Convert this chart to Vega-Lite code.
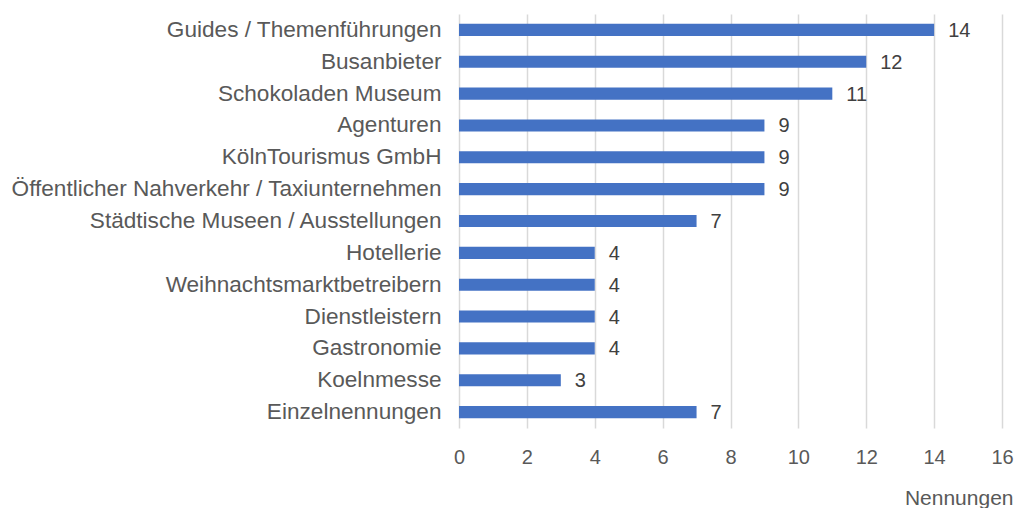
{
  "$schema": "https://vega.github.io/schema/vega-lite/v6.json",
  "autosize": "none",
  "width": 543,
  "height": 414,
  "padding": {"left": 459, "top": 14, "right": 16, "bottom": 80},
  "background": "white",
  "config": {"view": {"stroke": null}, "font": "Liberation Sans"},
  "data": {"values": [
    {"k": "Guides / Themenführungen", "v": 14},
    {"k": "Busanbieter", "v": 12},
    {"k": "Schokoladen Museum", "v": 11},
    {"k": "Agenturen", "v": 9},
    {"k": "KölnTourismus GmbH", "v": 9},
    {"k": "Öffentlicher Nahverkehr / Taxiunternehmen", "v": 9},
    {"k": "Städtische Museen / Ausstellungen", "v": 7},
    {"k": "Hotellerie", "v": 4},
    {"k": "Weihnachtsmarktbetreibern", "v": 4},
    {"k": "Dienstleistern", "v": 4},
    {"k": "Gastronomie", "v": 4},
    {"k": "Koelnmesse", "v": 3},
    {"k": "Einzelnennungen", "v": 7}
  ]},
  "encoding": {
    "y": {"field": "k", "type": "nominal", "sort": null,
      "scale": {"paddingInner": 0.62, "paddingOuter": 0.31},
      "axis": {"title": null, "domain": false, "ticks": false, "labelPadding": 18,
        "labelFontSize": 22.6, "labelColor": "#595959", "labelFont": "Liberation Sans", "labelLimit": 500}},
    "x": {"field": "v", "type": "quantitative",
      "scale": {"domain": [0, 16], "nice": false},
      "axis": {"title": "Nennungen", "values": [0,2,4,6,8,10,12,14,16], "domain": false, "ticks": false,
        "grid": true, "gridColor": "#d9d9d9", "gridWidth": 1.5, "labelFlush": false,
        "labelPadding": 19, "labelFontSize": 20, "labelColor": "#595959", "labelFont": "Liberation Sans",
        "titleFontSize": 21, "titleFontWeight": "normal", "titleColor": "#595959", "titleFont": "Liberation Sans",
        "titleAnchor": "end", "titleAlign": "right", "titleX": 554, "titleY": 76, "titleBaseline": "alphabetic"}}
  },
  "layer": [
    {"mark": {"type": "bar", "color": "#4472C4"}},
    {"mark": {"type": "text", "align": "left", "dx": 14, "dy": 1, "fontSize": 20, "color": "#404040", "font": "Liberation Sans"},
     "encoding": {"text": {"field": "v", "type": "quantitative"}}}
  ]
}
